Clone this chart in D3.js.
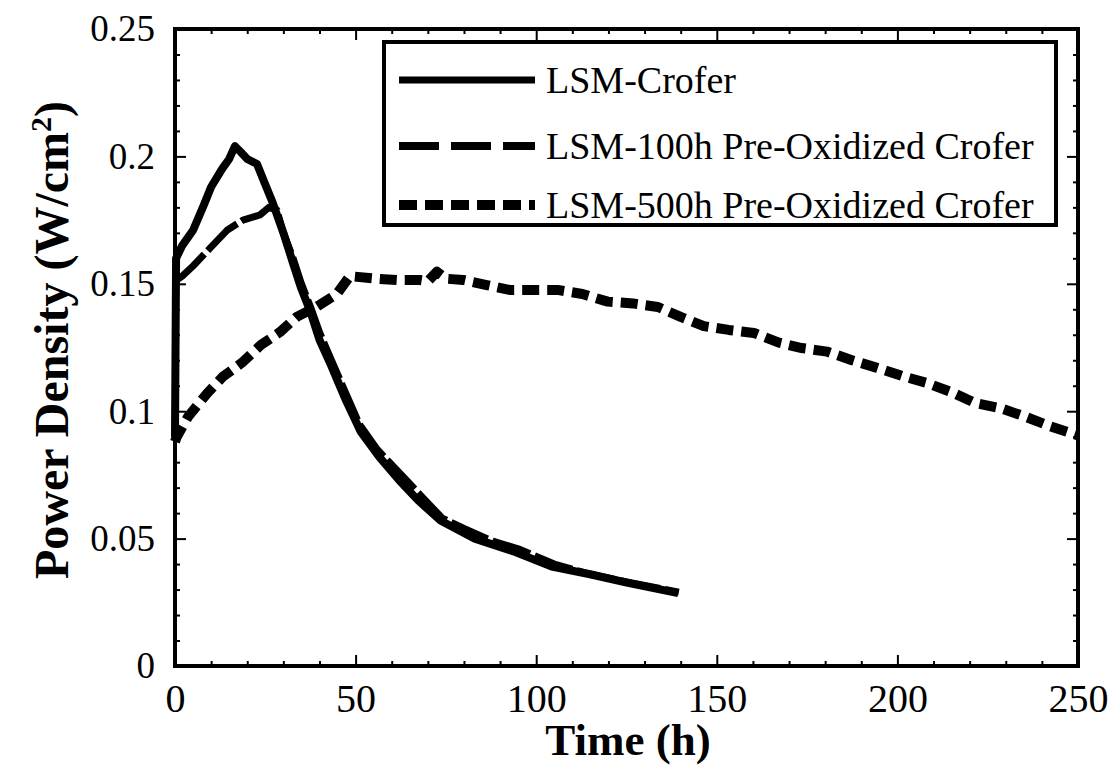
<!DOCTYPE html>
<html>
<head>
<meta charset="utf-8">
<script src="https://cdn.jsdelivr.net/npm/d3@7"></script>
<style>
  html, body { margin: 0; padding: 0; background: #fff; }
  svg { display: block; }
  text { font-family: "Liberation Serif", "Times New Roman", serif; fill: #000; }
</style>
</head>
<body>
<svg id="chart" width="1116" height="768"></svg>
<script>
// ---- data ----
const seriesNames = ["LSM-Crofer", "LSM-100h Pre-Oxidized Crofer", "LSM-500h Pre-Oxidized Crofer"];

const crofferTime  = [0, 0.3, 2, 5, 8, 10, 13, 15, 16.6, 18, 20, 22.7, 24.4, 27, 30, 32.7, 35, 37.5, 40, 42.9, 45, 47.1, 51.4, 56.6, 62, 67.3, 73.6, 83, 93.7, 104.3, 114.9, 125.4, 139.3];
const crofferPower = [0.090, 0.160, 0.165, 0.171, 0.181, 0.188, 0.195, 0.199, 0.204, 0.202, 0.199, 0.197, 0.191, 0.182, 0.170, 0.158, 0.148, 0.139, 0.128, 0.119, 0.112, 0.105, 0.092, 0.082, 0.073, 0.065, 0.057, 0.050, 0.045, 0.039, 0.036, 0.0326, 0.0286];

const pre100Time  = [0, 2, 5, 9.7, 14.4, 18.8, 23.5, 26, 28.2, 30, 32.7, 35, 37.5, 40, 43, 47, 51, 56, 60, 64, 68, 74, 80, 88, 95, 105, 115, 125, 139.5];
const pre100Power = [0.151, 0.153, 0.157, 0.164, 0.171, 0.175, 0.177, 0.180, 0.179, 0.170, 0.160, 0.150, 0.141, 0.131, 0.121, 0.108, 0.095, 0.085, 0.079, 0.073, 0.067, 0.058, 0.054, 0.049, 0.046, 0.040, 0.036, 0.033, 0.029];

const pre500Time  = [0, 0.5, 3.7, 8.9, 13.2, 18.5, 23.8, 29, 33.7, 39.2, 44.8, 48.4, 55.8, 61.4, 67.8, 70, 72.5, 75, 79.8, 86.3, 92.6, 98.9, 105.9, 112.8, 119.8, 126.8, 133.7, 140, 146.4, 153.3, 160.3, 167.2, 173.5, 180.5, 187.4, 194.4, 201.3, 208.3, 215.3, 221.6, 228.5, 235.5, 242.4, 248, 250];
const pre500Power = [0.088, 0.090, 0.098, 0.107, 0.1135, 0.119, 0.126, 0.131, 0.137, 0.141, 0.146, 0.153, 0.152, 0.1515, 0.1515, 0.151, 0.1547, 0.152, 0.1515, 0.1495, 0.1476, 0.1476, 0.1476, 0.146, 0.143, 0.1423, 0.1409, 0.137, 0.1334, 0.1319, 0.1307, 0.1269, 0.1248, 0.1234, 0.120, 0.117, 0.1138, 0.111, 0.1073, 0.1032, 0.1012, 0.0978, 0.094, 0.0914, 0.0905];

const xTickValues = [0, 50, 100, 150, 200, 250];
const xTickLabels = ["0", "50", "100", "150", "200", "250"];
const yTickValues = [0, 0.05, 0.1, 0.15, 0.2, 0.25];
const yTickLabels = ["0", "0.05", "0.1", "0.15", "0.2", "0.25"];
const xTitle = "Time (h)";
const yTitleMain = "Power Density (W/cm";
const yTitleSup = "2";
const yTitleEnd = ")";

// ---- layout ----
const svg = d3.select("#chart");
const L = 175, R = 1078, T = 29, B = 666;

const x = d3.scaleLinear().domain([0, 250]).range([L, R]);
const y = d3.scaleLinear().domain([0, 0.25]).range([B, T]);

const xMinor = d3.range(0, 251, 10).filter(v => v % 50 !== 0);
const yMinor = d3.range(0, 0.2501, 0.01).map(v => +v.toFixed(3)).filter(v => Math.round(v * 1000) % 50 !== 0);

function styleAxis(g) {
  g.select(".domain").remove();
  g.selectAll(".tick line").attr("stroke", "#000").attr("stroke-width", 2);
}

// bottom
svg.append("g").attr("transform", `translate(0,${B})`)
  .call(d3.axisBottom(x).tickValues(xTickValues).tickSizeInner(-11).tickSizeOuter(0).tickPadding(16)
    .tickFormat((d, i) => xTickLabels[i]))
  .call(styleAxis)
  .call(g => g.selectAll("text").attr("font-size", 40).attr("dy", "0.75em"));
svg.append("g").attr("transform", `translate(0,${B})`)
  .call(d3.axisBottom(x).tickValues(xMinor).tickSizeInner(-5).tickSizeOuter(0).tickFormat(""))
  .call(styleAxis);
// top
svg.append("g").attr("transform", `translate(0,${T})`)
  .call(d3.axisTop(x).tickValues(xTickValues).tickSizeInner(-11).tickSizeOuter(0).tickFormat(""))
  .call(styleAxis);
svg.append("g").attr("transform", `translate(0,${T})`)
  .call(d3.axisTop(x).tickValues(xMinor).tickSizeInner(-5).tickSizeOuter(0).tickFormat(""))
  .call(styleAxis);
// left
svg.append("g").attr("transform", `translate(${L},0)`)
  .call(d3.axisLeft(y).tickValues(yTickValues).tickSizeInner(-11).tickSizeOuter(0).tickPadding(20)
    .tickFormat((d, i) => yTickLabels[i]))
  .call(styleAxis)
  .call(g => g.selectAll("text").attr("font-size", 37));
svg.append("g").attr("transform", `translate(${L},0)`)
  .call(d3.axisLeft(y).tickValues(yMinor).tickSizeInner(-5).tickSizeOuter(0).tickFormat(""))
  .call(styleAxis);
// right
svg.append("g").attr("transform", `translate(${R},0)`)
  .call(d3.axisRight(y).tickValues(yTickValues).tickSizeInner(-11).tickSizeOuter(0).tickFormat(""))
  .call(styleAxis);
svg.append("g").attr("transform", `translate(${R},0)`)
  .call(d3.axisRight(y).tickValues(yMinor).tickSizeInner(-5).tickSizeOuter(0).tickFormat(""))
  .call(styleAxis);

// frame
svg.append("rect").attr("x", L).attr("y", T).attr("width", R - L).attr("height", B - T)
  .attr("fill", "none").attr("stroke", "#000").attr("stroke-width", 4);

// ---- lines ----
const line = d3.line().x(d => x(d[0])).y(d => y(d[1]));
const series = [
  { pts: crofferTime.map((t, i) => [t, crofferPower[i]]), width: 8, dash: null },
  { pts: pre100Time.map((t, i) => [t, pre100Power[i]]), width: 7, dash: "40,5" },
  { pts: pre500Time.map((t, i) => [t, pre500Power[i]]), width: 10, dash: "17,8" }
];
series.forEach(s => {
  svg.append("path").datum(s.pts).attr("d", line)
    .attr("fill", "none").attr("stroke", "#000").attr("stroke-width", s.width)
    .attr("stroke-linejoin", "round")
    .attr("stroke-dasharray", s.dash);
});

// ---- legend ----
const lg = svg.append("g");
lg.append("rect").attr("x", 384).attr("y", 42).attr("width", 672).attr("height", 183)
  .attr("fill", "#fff").attr("stroke", "#000").attr("stroke-width", 4);
const legendStyles = [
  { width: 7, dash: null },
  { width: 8, dash: "40,12" },
  { width: 10, dash: "18,8" }
];
const rowY = [80, 146, 205];
seriesNames.forEach((name, i) => {
  lg.append("line").attr("x1", 399).attr("x2", 535).attr("y1", rowY[i]).attr("y2", rowY[i])
    .attr("stroke", "#000").attr("stroke-width", legendStyles[i].width)
    .attr("stroke-dasharray", legendStyles[i].dash);
  lg.append("text").attr("x", 546).attr("y", rowY[i]).attr("dy", "0.35em")
    .attr("font-size", 38).text(name);
});

// ---- axis titles ----
svg.append("text").attr("x", 628).attr("y", 755).attr("text-anchor", "middle")
  .attr("font-size", 45).attr("font-weight", "bold").text(xTitle);

const yt = svg.append("text").attr("transform", "translate(68,340) rotate(-90)")
  .attr("text-anchor", "middle").attr("font-size", 48).attr("font-weight", "bold");
yt.append("tspan").text(yTitleMain);
yt.append("tspan").attr("font-size", 30).attr("dy", -17).text(yTitleSup);
yt.append("tspan").attr("dy", 17).text(yTitleEnd);
</script>
</body>
</html>
